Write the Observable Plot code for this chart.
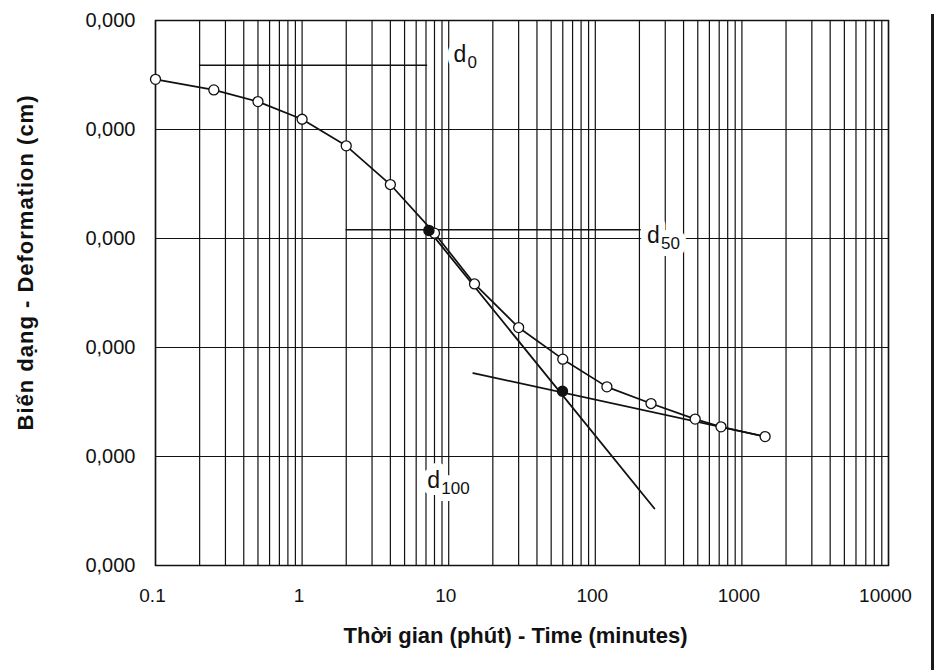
<!DOCTYPE html>
<html><head><meta charset="utf-8">
<script src="https://cdn.jsdelivr.net/npm/d3@7"></script>
<script src="https://cdn.jsdelivr.net/npm/@observablehq/plot@0.6"></script>
<style>
html,body{margin:0;padding:0;background:#fff;}
#chart{position:relative;width:936px;height:670px;overflow:hidden;background:#fff;}
#edge{position:absolute;left:931px;top:14px;width:3px;height:656px;background:#1a1a1a;}
</style></head><body><div id="chart"><div id="edge"></div></div>
<script>
// Readings: time (minutes) and deformation (grid units, axis labels all read "0,000")
const times = [0.1, 0.25, 0.5, 1, 2, 4, 8, 15, 30, 60, 120, 240, 480, 720, 1440];
const deformation = [0.540, 0.637, 0.744, 0.906, 1.150, 1.505, 1.951, 2.417, 2.817, 3.107, 3.361, 3.514, 3.657, 3.728, 3.817];

// Construction points (filled): d50 and d100
const keyTimes = [7.33, 59.7];
const keyDeformation = [1.926, 3.401];

// Tangent lines
const tangentPrimaryT = [7.33, 253];
const tangentPrimaryD = [1.926, 4.477];
const tangentSecondaryT = [14.7, 1440];
const tangentSecondaryD = [3.235, 3.817];

// Horizontal reference lines d0 and d50
const d0LineT = [0.2, 7.06];
const d0LineD = [0.41, 0.41];
const d50LineT = [2, 202];
const d50LineD = [1.92, 1.92];

// Annotations
const labelMain = ["d", "d", "d"];
const labelSub = ["0", "50", "100"];
const labelT = [10.8, 225, 7.15];
const labelD = [0.381, 2.037, 4.292];

// Axes
const xTicks = [0.1, 1, 10, 100, 1000, 10000];
const xTickLabels = ["0.1", "1", "10", "100", "1000", "10000"];
const yTicks = [0, 1, 2, 3, 4, 5];
const yTickLabels = ["0,000", "0,000", "0,000", "0,000", "0,000", "0,000"];
const xTitle = "Thời gian (phút) - Time (minutes)";
const yTitle = "Biến dạng - Deformation (cm)";

// log grid (1..9 per decade)
const xGrid = [];
for (let e = -1; e < 4; e++) for (let m = 1; m <= 9; m++) xGrid.push(+(m * Math.pow(10, e)).toPrecision(6));
xGrid.push(10000);

const points = times.map((t, i) => ({t, d: deformation[i]}));
const keys = keyTimes.map((t, i) => ({t, d: keyDeformation[i]}));
const tan1 = tangentPrimaryT.map((t, i) => ({t, d: tangentPrimaryD[i]}));
const tan2 = tangentSecondaryT.map((t, i) => ({t, d: tangentSecondaryD[i]}));
const d0L = d0LineT.map((t, i) => ({t, d: d0LineD[i]}));
const d50L = d50LineT.map((t, i) => ({t, d: d50LineD[i]}));
const labels = labelMain.map((m, i) => ({main: m, sub: labelSub[i], t: labelT[i], d: labelD[i]}));

const ink = "#111";
const chart = Plot.plot({
  width: 936,
  height: 670,
  marginLeft: 155,
  marginRight: 48,
  marginTop: 20,
  marginBottom: 105,
  style: {fontFamily: "'Liberation Sans', Arial, sans-serif", fontSize: "19px", color: ink, background: "white"},
  x: {type: "log", domain: [0.1, 10000], ticks: xTicks, tickFormat: d => xTickLabels[xTicks.indexOf(d)], tickSize: 0, tickPadding: 23, label: null},
  y: {domain: [0, 5], reverse: true, ticks: yTicks, tickFormat: d => yTickLabels[yTicks.indexOf(d)], tickSize: 0, tickPadding: 20, label: null},
  marks: [
    Plot.ruleX(xGrid, {stroke: ink, strokeWidth: 1.2}),
    Plot.ruleY(yTicks, {stroke: ink, strokeWidth: 1.2}),
    Plot.frame({stroke: ink, strokeWidth: 1.5}),
    // label halos (white boxes breaking the grid)
    Plot.text(labels, {x: "t", y: "d", text: "main", textAnchor: "start", lineAnchor: "bottom", fontSize: 23, fill: "white", stroke: "white", strokeWidth: 14}),
    Plot.text(labels, {x: "t", y: "d", text: "sub", textAnchor: "start", lineAnchor: "bottom", fontSize: 17, dx: 14, dy: 6, fill: "white", stroke: "white", strokeWidth: 14}),
    Plot.text(labels, {x: "t", y: "d", text: "main", textAnchor: "start", lineAnchor: "bottom", fontSize: 23, fill: ink}),
    Plot.text(labels, {x: "t", y: "d", text: "sub", textAnchor: "start", lineAnchor: "bottom", fontSize: 17, dx: 14, dy: 6, fill: ink}),
    Plot.line(d0L, {x: "t", y: "d", stroke: ink, strokeWidth: 1.6}),
    Plot.line(d50L, {x: "t", y: "d", stroke: ink, strokeWidth: 1.6}),
    Plot.line(tan1, {x: "t", y: "d", stroke: ink, strokeWidth: 1.8}),
    Plot.line(tan2, {x: "t", y: "d", stroke: ink, strokeWidth: 1.8}),
    Plot.line(points, {x: "t", y: "d", stroke: ink, strokeWidth: 1.7}),
    Plot.dot(points, {x: "t", y: "d", r: 5, fill: "white", stroke: ink, strokeWidth: 1.3}),
    Plot.dot(keys, {x: "t", y: "d", r: 5, fill: ink, stroke: ink}),
    Plot.text([xTitle], {text: d => d, frameAnchor: "bottom", textAnchor: "middle", dx: -6.5, dy: 77, lineAnchor: "bottom", fontSize: 22, fontWeight: "bold", fill: ink}),
    Plot.text([yTitle], {text: d => d, frameAnchor: "left", textAnchor: "middle", rotate: -90, dx: -123, dy: -30.5, lineAnchor: "bottom", fontSize: 22, fontWeight: "bold", fill: ink})
  ]
});
document.getElementById("chart").prepend(chart);
// y tick labels slightly larger than x tick labels
chart.querySelectorAll('[aria-label^="y-axis"] text').forEach(t => t.style.fontSize = "20px");
chart.querySelectorAll('[aria-label^="x-axis"] text').forEach(t => t.setAttribute("dx", "-3"));
chart.querySelectorAll("text").forEach(t => { if (t.textContent === yTitle) t.style.letterSpacing = "1px"; });
</script>
</body></html>
